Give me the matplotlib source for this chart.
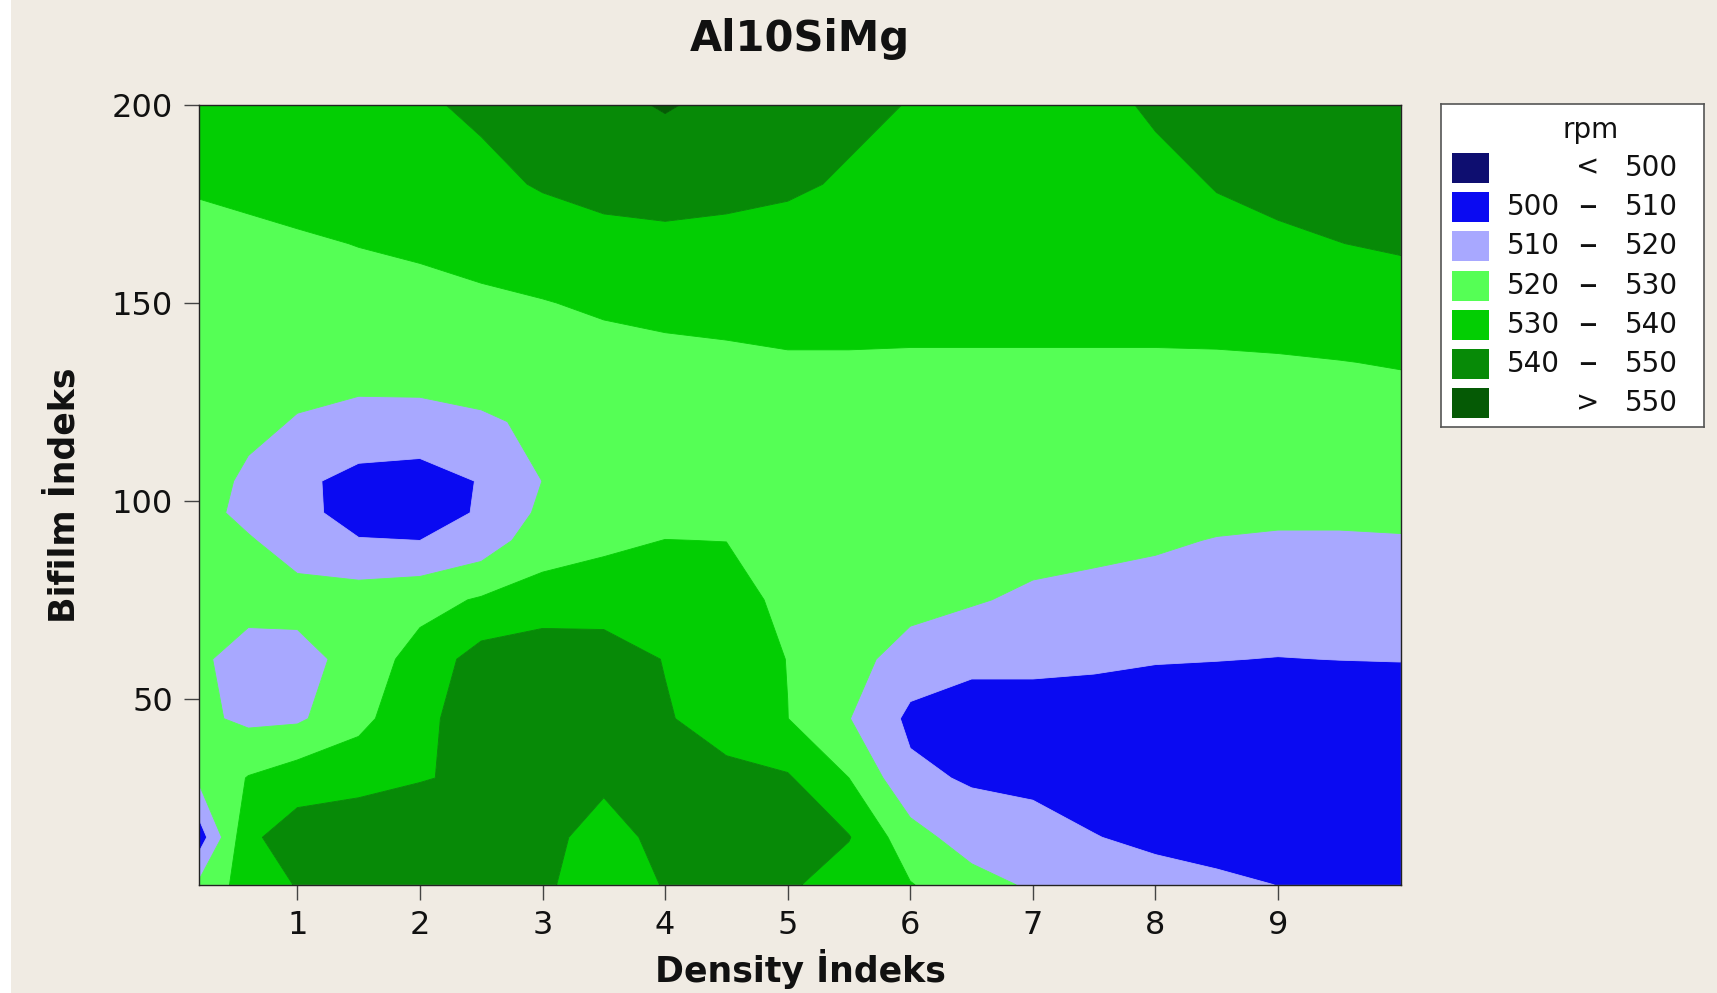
import numpy as np
import matplotlib
matplotlib.use("Agg")
import matplotlib.pyplot as plt
from matplotlib.patches import Rectangle

# ---- data ----
density_idx = [0.2, 0.6, 1.0, 1.5, 2.0, 2.5, 3.0, 3.5, 4.0, 4.5, 5.0,
               5.5, 6.0, 6.5, 7.0, 7.5, 8.0, 8.5, 9.0, 9.5, 10.0]
bifilm_idx = [3, 15, 30, 45, 60, 75, 90, 97, 105, 120, 135, 150, 165, 180, 200]

rpm_y3   = [522, 535, 540.5, 543, 544, 544, 541.5, 535, 540.5, 543, 541.5, 535, 530.5, 524, 518.5, 514.5, 513.5, 511.5, 509.9, 508, 507]
rpm_y15  = [505, 538, 545, 546, 546, 546, 543, 536, 543, 546, 546, 540.5, 524, 515, 515, 510.3, 508, 507, 506, 505, 505]
rpm_y30  = [522, 530.5, 535, 537, 539.5, 541.5, 543, 542, 542, 543, 541, 530, 512, 509, 507, 506, 505, 504.5, 504, 503.5, 503]
rpm_y45  = [522, 518, 518.5, 527, 538, 544, 546, 546, 541, 535, 530.1, 520.3, 508, 506, 506, 505.5, 505, 504.5, 504, 504, 504]
rpm_y60  = [521.5, 516, 516, 524, 534, 544, 547, 546, 539.5, 535, 529.8, 524, 515, 512, 512, 511.5, 510.5, 510.2, 509.8, 510.1, 510.3]
rpm_y75  = [523, 523.5, 524, 524.7, 526.5, 531, 533.5, 534, 535, 534, 527.5, 525, 524, 521, 518, 516.5, 515.5, 515, 514.5, 514.5, 515]
rpm_y90  = [523, 521, 515, 510.5, 510, 514, 526, 528.5, 530.1, 529.9, 527, 526, 525.5, 525, 524, 523, 521.5, 519.5, 518.5, 518.5, 519]
rpm_y97  = [523.5, 517, 513, 506, 505.5, 511, 522, 526, 527.5, 527.5, 526.5, 526, 526, 525.5, 525, 524.5, 524, 523, 522.5, 522.5, 523]
rpm_y105 = [523.5, 518.5, 512, 507, 506, 510.5, 520.1, 524, 525.5, 526, 526, 526, 526, 526, 526, 526, 526, 526, 526, 526, 526]
rpm_y120 = [523, 522, 519.5, 517, 516.5, 518.5, 522, 524, 525, 526, 526.5, 526.5, 526.5, 526.5, 526.5, 526.5, 526.5, 526.5, 526.5, 526.5, 526.5]
rpm_y135 = [521, 522, 523, 524, 525, 526, 527, 527.5, 528, 528.8, 529.2, 529.2, 529, 529, 529, 529, 529, 529, 529.3, 529.8, 530.5]
rpm_y150 = [524, 525, 526, 527, 528, 529, 529.7, 531, 532, 532, 533, 533, 533, 533, 533, 533, 533, 533.5, 534, 535, 536]
rpm_y165 = [527, 528, 529, 530.2, 531, 532, 534, 536, 537, 536, 535, 534, 533, 532, 532, 532.5, 534, 537, 538.7, 539.9, 541]
rpm_y180 = [531, 532, 533, 534, 535, 537, 541, 544, 545, 544, 542, 538.5, 535, 534, 533, 534, 537, 540.5, 542, 543, 544]
rpm_y200 = [535, 535, 536, 537, 538.5, 542, 546, 548, 550.6, 548, 546, 543, 539.5, 536, 535, 537, 541.5, 544, 545, 546, 546]

level_bounds = [490, 500, 510, 520, 530, 540, 550, 560]
level_colors = ['#0E0E70', '#0A0AF2', '#A8A8FF', '#55FF55', '#03CE03', '#078A07', '#055A05']
legend_low = ['', '500', '510', '520', '530', '540', '']
legend_sep = ['<', '–', '–', '–', '–', '–', '>']
legend_high = ['500', '510', '520', '530', '540', '550', '550']
x_ticks = [1, 2, 3, 4, 5, 6, 7, 8, 9]
y_ticks = [50, 100, 150, 200]

Z = np.array([rpm_y3, rpm_y15, rpm_y30, rpm_y45, rpm_y60, rpm_y75, rpm_y90, rpm_y97,
              rpm_y105, rpm_y120, rpm_y135, rpm_y150, rpm_y165, rpm_y180, rpm_y200])
X, Y = np.meshgrid(density_idx, bifilm_idx)

BG = '#F0EBE3'
W, H = 1717, 993
fig = plt.figure(figsize=(W / 100, H / 100), dpi=100, facecolor=BG)
# thin white strip on the left edge, as in the reference screenshot
fig.patches.append(Rectangle((0, 0), 11 / W, 1, transform=fig.transFigure,
                             facecolor='white', edgecolor='none', zorder=-1))

ax = fig.add_axes([199.3 / W, 1 - 884.8 / H, (1400.6 - 199.3) / W, (884.8 - 105.1) / H])
cs = ax.contourf(X, Y, Z, levels=level_bounds, colors=level_colors, antialiased=True)
cs.set_edgecolor('face')
cs.set_linewidth(0.6)
ax.set_xlim(density_idx[0], density_idx[-1])
ax.set_ylim(bifilm_idx[0], bifilm_idx[-1])
ax.set_xticks(x_ticks)
ax.set_yticks(y_ticks)
ax.tick_params(axis='both', direction='out', length=11, width=1, color='#444444',
               labelsize=23, labelcolor='#111111')
ax.tick_params(axis='x', pad=7)
ax.tick_params(axis='y', pad=8)
for s in ax.spines.values():
    s.set_linewidth(1.0)
    s.set_color('#222222')

ax.set_xlabel('Density İndeks', fontsize=25, fontweight='bold', labelpad=6, color='#111111')
ax.set_ylabel('Bifilm İndeks', fontsize=25, fontweight='bold', labelpad=22, color='#111111')
fig.text(800 / W, 1 - 39 / H, 'Al10SiMg', ha='center', va='center', fontsize=30,
         fontweight='bold', color='#111111')

# ---- legend box (pixel coordinates) ----
L, R, T, B = 1441, 1704, 104, 427
lax = fig.add_axes([L / W, 1 - B / H, (R - L) / W, (B - T) / H])
lax.set_xlim(L, R)
lax.set_ylim(B, T)
lax.set_facecolor('white')
for s in lax.spines.values():
    s.set_color('#555555')
    s.set_linewidth(1.2)
lax.set_xticks([])
lax.set_yticks([])
lax.text(1591, 130, 'rpm', ha='center', va='center', fontsize=20, color='#111111')
row_y = [167.5, 207, 246, 286, 325, 364, 403]
for yc, col, lo, sp, hi in zip(row_y, level_colors, legend_low, legend_sep, legend_high):
    lax.add_patch(Rectangle((1452, yc - 15), 37, 30, facecolor=col, edgecolor='none'))
    if lo:
        lax.text(1560, yc, lo, ha='right', va='center', fontsize=20, color='#111111')
    if sp == '–':
        lax.text(1588, yc, sp, ha='center', va='center', fontsize=27, color='#111111')
    else:
        lax.text(1588, yc, sp, ha='center', va='center', fontsize=20, color='#111111')
    lax.text(1678, yc, hi, ha='right', va='center', fontsize=20, color='#111111')

fig.savefig('out.png', dpi=100, facecolor=BG)
